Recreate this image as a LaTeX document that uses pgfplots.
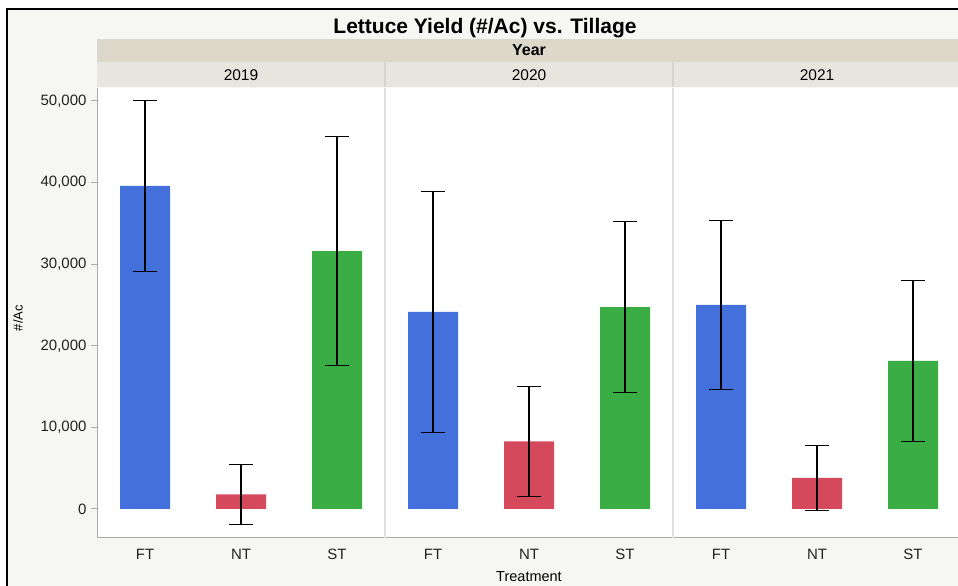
\documentclass[border=0pt]{standalone}
\usepackage{pgfplots}
\pgfplotsset{compat=1.18}
\usepackage{fontspec}
\setmainfont{Liberation Sans}

\definecolor{pagebg}{HTML}{F6F6F2}
\definecolor{bandyear}{HTML}{DCD9CB}
\definecolor{bandcell}{HTML}{E7E6DE}
\definecolor{cellsep}{HTML}{D6D5CC}
\definecolor{axisgray}{HTML}{ABABAB}
\definecolor{panelsep}{HTML}{DEDEDE}
\definecolor{ftblue}{HTML}{4370DA}
\definecolor{ntred}{HTML}{D4495B}
\definecolor{stgreen}{HTML}{3BAD45}
\definecolor{labelgray}{HTML}{222222}

\begin{document}
\begin{tikzpicture}[x=1pt,y=1pt]
\useasboundingbox (0,0) rectangle (958,586);
\clip (0,0) rectangle (958,586);
% page and frame
\fill[white] (0,0) rectangle (958,586);
\fill[pagebg] (7,0) rectangle (958,577);
\draw[black, line width=2pt] (7,0) -- (7,577) -- (960,577);

% title and header bands
\node[font=\bfseries\fontsize{21}{23}\selectfont] at (485,558) {Lettuce Yield (\#/Ac) vs. Tillage};
\fill[bandyear] (97,524) rectangle (962,547);
\fill[bandcell] (97,499) rectangle (962,524);
\draw[cellsep, line width=2.5pt] (385,499) -- (385,524);
\draw[cellsep, line width=2.5pt] (673,499) -- (673,524);
\node[font=\bfseries\fontsize{16}{18}\selectfont] at (529,535.5) {Year};
\node[font=\fontsize{15.5}{17}\selectfont] at (241,511) {2019};
\node[font=\fontsize{15.5}{17}\selectfont] at (529,511) {2020};
\node[font=\fontsize{15.5}{17}\selectfont] at (817,511) {2021};

% y axis title
\node[rotate=90, font=\fontsize{13}{15}\selectfont] at (18,268) {\#/Ac};

\begin{axis}[
  at={(97pt,48pt)}, anchor=south west,
  scale only axis, width=864pt, height=450pt,
  xmin=0, xmax=9, ymin=-3554, ymax=51593,
  axis lines*=left,
  axis line style={axisgray, line width=1pt},
  axis background/.style={fill=white},
  ytick={0,10000,20000,30000,40000,50000},
  xtick={0.5,1.5,2.5,3.5,4.5,5.5,6.5,7.5,8.5},
  xticklabels={FT,NT,ST,FT,NT,ST,FT,NT,ST},
  x tick style={draw=none},
  y tick style={axisgray, line width=1pt},
  tick align=outside,
  major tick length=6pt,
  /pgf/number format/assume math mode=true,
  /pgf/number format/1000 sep={,},
  scaled y ticks=false,
  tick label style={font=\fontsize{15}{17}\selectfont, text=labelgray},
  yticklabel style={xshift=-1pt},
  xticklabel style={yshift=-1pt, text height=11pt, text depth=0pt},
  xlabel={Treatment},
  xlabel style={font=\fontsize{14.5}{16}\selectfont, yshift=7pt},
  extra x ticks={3,6},
  extra x tick labels={},
  extra x tick style={grid=major, major grid style={panelsep, line width=1.2pt}, tick style={draw=none}},
  ybar, bar width=50pt,
  error bars/y dir=both, error bars/y explicit,
  error bars/error bar style={black, line width=1.2pt},
  error bars/error mark options={rotate=90, black, line width=1.2pt, mark size=12pt},
]
% FT
\addplot[fill=ftblue, draw=none, bar shift=0pt] coordinates {
  (0.5,39600) +- (0,10500)
  (3.5,24150) +- (0,14800)
  (6.5,25000) +- (0,10400)
};
% NT
\addplot[fill=ntred, draw=none, bar shift=0pt] coordinates {
  (1.5,1800) +- (0,3700)
  (4.5,8300) +- (0,6750)
  (7.5,3800) +- (0,3950)
};
% ST
\addplot[fill=stgreen, draw=none, bar shift=0pt] coordinates {
  (2.5,31600) +- (0,14050)
  (5.5,24750) +- (0,10500)
  (8.5,18140) +- (0,9900)
};
\end{axis}
\end{tikzpicture}
\end{document}
